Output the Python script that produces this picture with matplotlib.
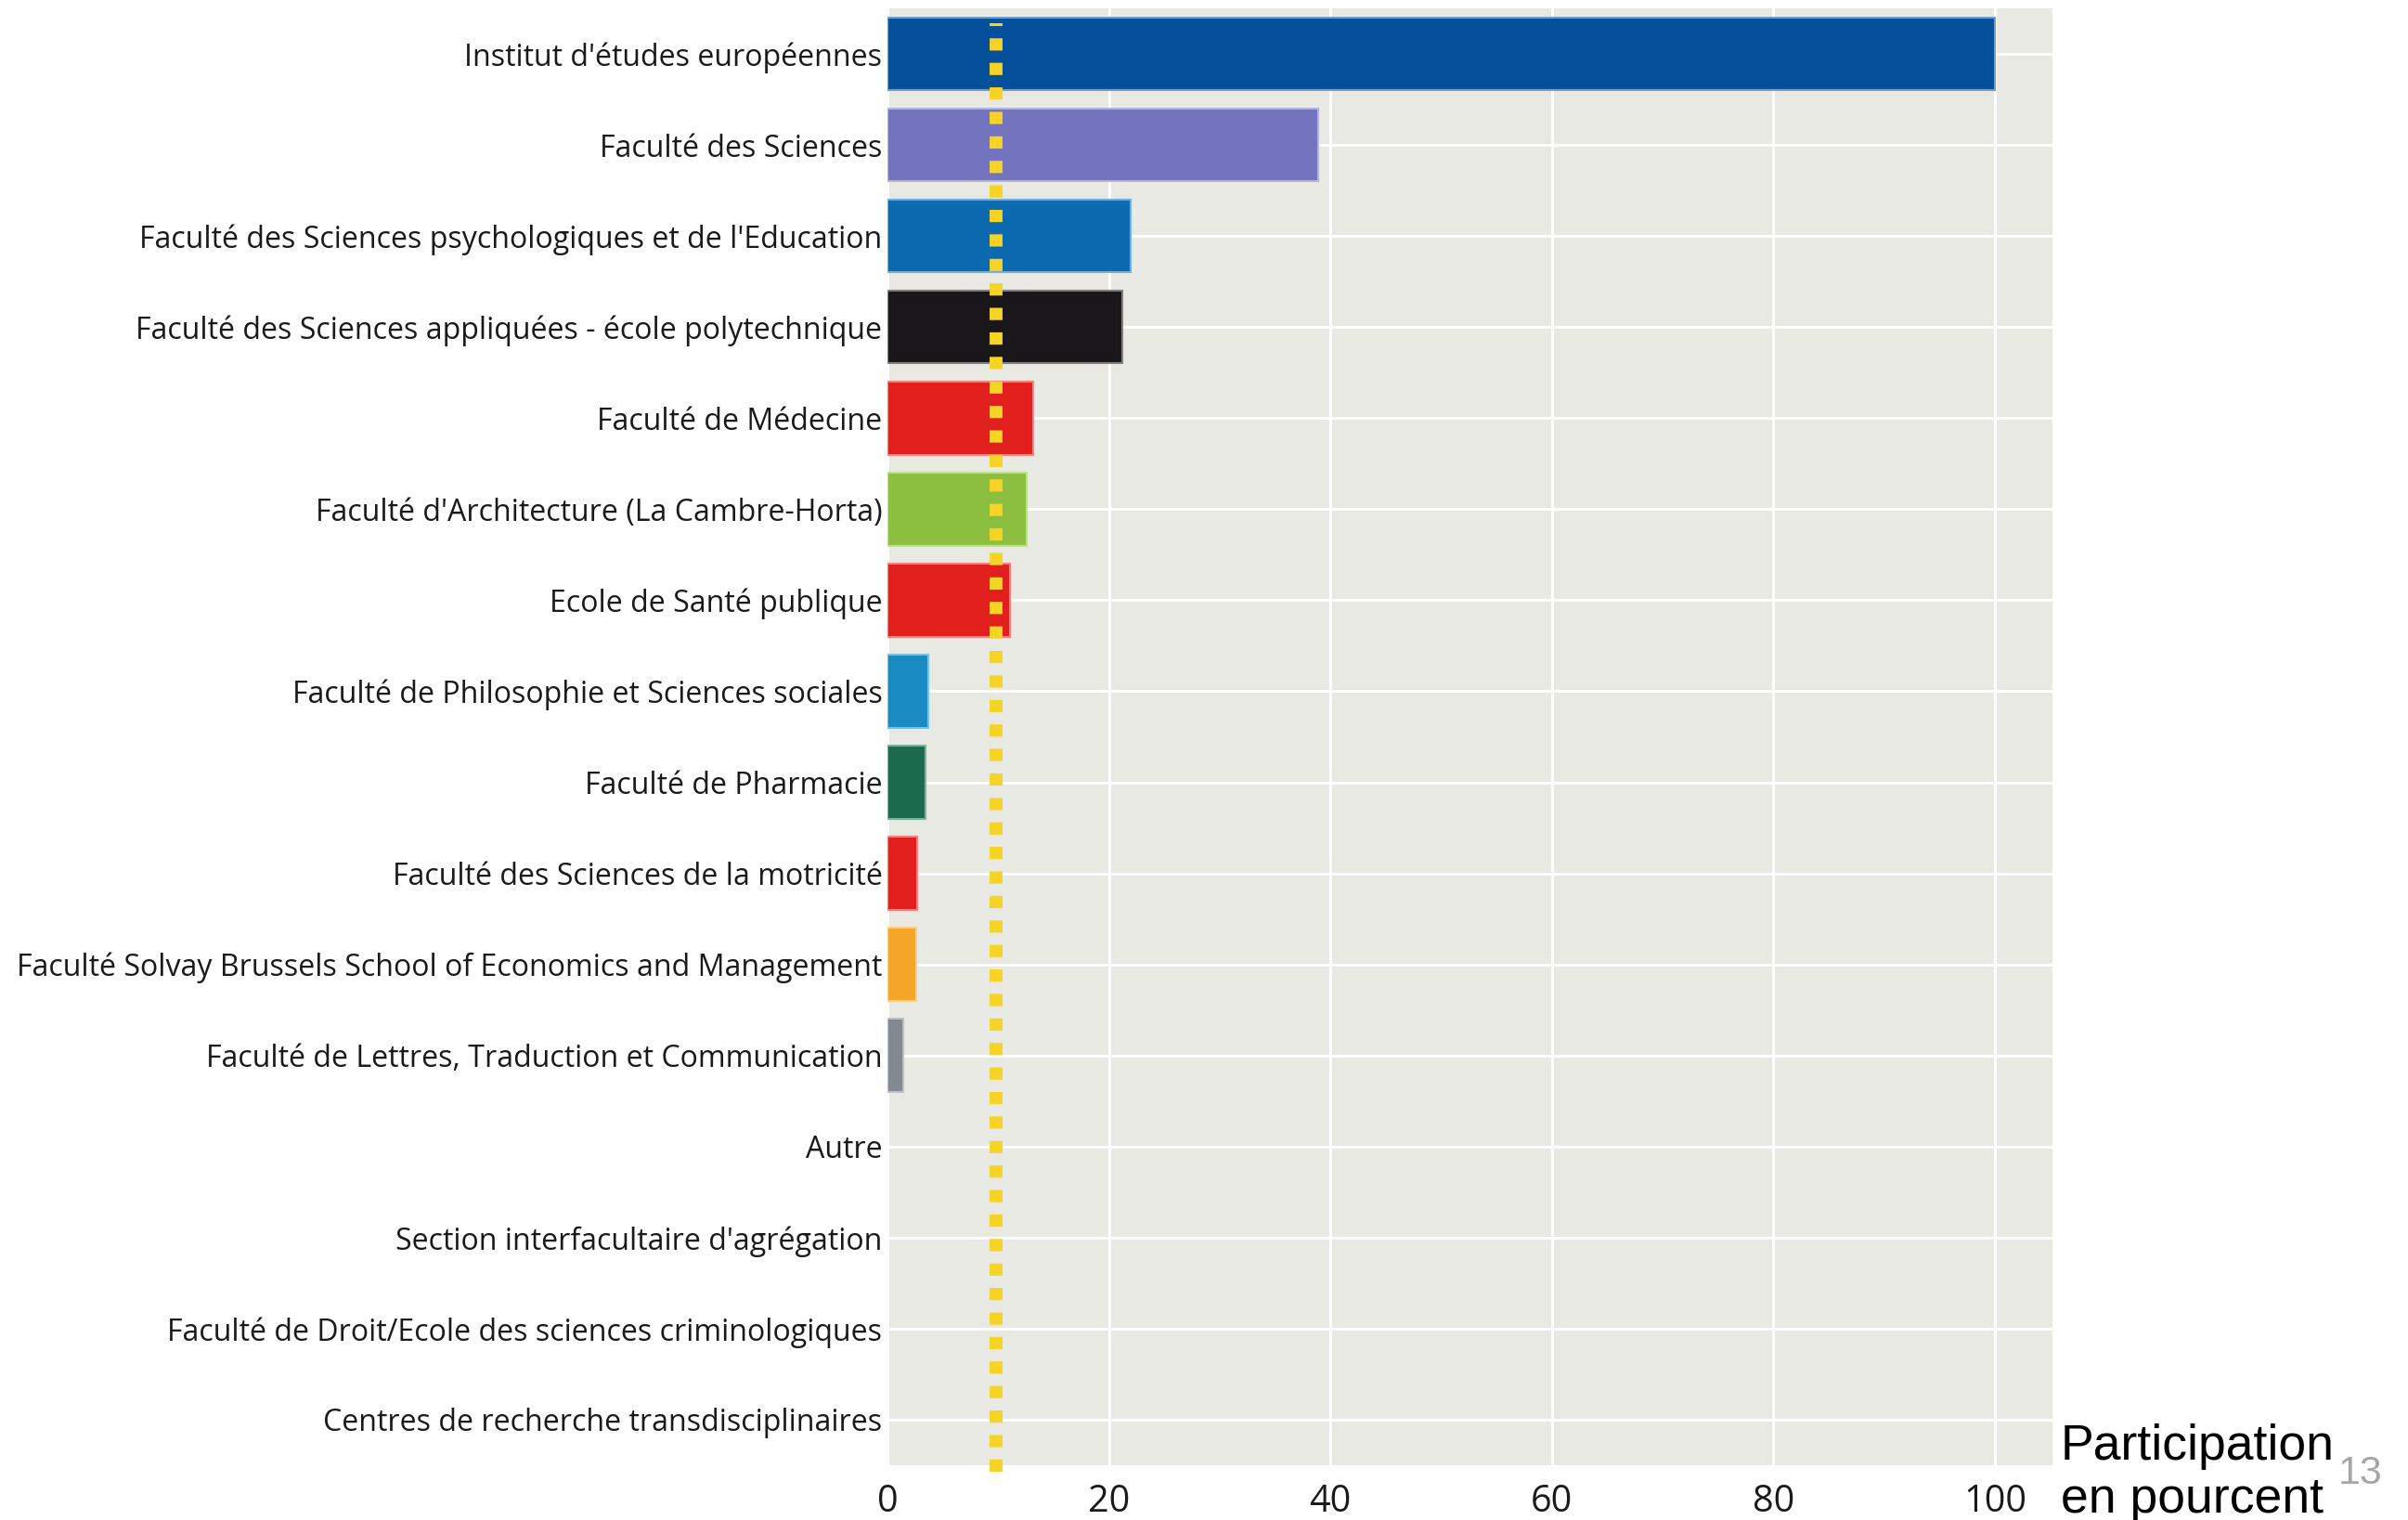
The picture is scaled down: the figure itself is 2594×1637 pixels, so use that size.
import matplotlib
matplotlib.use("Agg")
import matplotlib.pyplot as plt
from matplotlib.colors import to_rgb
import numpy as np

categories = [
    "Institut d'études européennes",
    "Faculté des Sciences",
    "Faculté des Sciences psychologiques et de l'Education",
    "Faculté des Sciences appliquées - école polytechnique",
    "Faculté de Médecine",
    "Faculté d'Architecture (La Cambre-Horta)",
    "Ecole de Santé publique",
    "Faculté de Philosophie et Sciences sociales",
    "Faculté de Pharmacie",
    "Faculté des Sciences de la motricité",
    "Faculté Solvay Brussels School of Economics and Management",
    "Faculté de Lettres, Traduction et Communication",
    "Autre",
    "Section interfacultaire d'agrégation",
    "Faculté de Droit/Ecole des sciences criminologiques",
    "Centres de recherche transdisciplinaires",
]
participation = [100, 38.9, 22.0, 21.2, 13.2, 12.6, 11.1, 3.7, 3.4, 2.7, 2.6, 1.45, 0, 0, 0, 0]
bar_colors = [
    "#04509A", "#7474BE", "#0D69B0", "#1A171B", "#E11F1C", "#8CBF40",
    "#E11F1C", "#1A8AC2", "#1A6B4E", "#E11F1C", "#F4A627", "#848890",
    "#848890", "#848890", "#848890", "#848890",
]
average_participation = 9.8
x_ticks = [0, 20, 40, 60, 80, 100]

W, H = 2594, 1637
fig = plt.figure(figsize=(W / 100, H / 100), dpi=100)
ax = fig.add_axes([956 / W, 1 - 1578 / H, (2211 - 956) / W, (1578 - 9) / H])
ax.set_facecolor("#E9E9E4")

y = np.arange(len(categories))

def lighten(c, f=0.45):
    r, g, b = to_rgb(c)
    return (r + (1 - r) * f, g + (1 - g) * f, b + (1 - b) * f)

ax.barh(y, participation, height=0.8, color=bar_colors,
        edgecolor=[lighten(c) for c in bar_colors],
        linewidth=[1.5 if v > 0 else 0 for v in participation], zorder=2)

ax.set_xlim(0, 105.2)
ax.set_ylim(len(categories) - 0.5, -0.5)

ax.set_xticks(x_ticks)
ax.set_xticklabels([str(t) for t in x_ticks])
ax.set_yticks(y)
ax.set_yticklabels(categories)

ax.grid(True, color="white", linewidth=2.2, zorder=1)
ax.set_axisbelow(True)
for s in ax.spines.values():
    s.set_visible(False)
ax.tick_params(axis="both", length=0, colors="#1A1A1A")
ax.tick_params(axis="y", pad=4, labelsize=23.1)
ax.tick_params(axis="x", pad=14, labelsize=28.5)
for lab in ax.get_yticklabels() + ax.get_xticklabels():
    lab.set_family("Open Sans")

ax.plot([average_participation, average_participation],
        [len(categories) - 0.5 + 0.07, -0.5 + 0.16],
        color="#F5D327", linewidth=10, linestyle=(0, (0.95, 0.95)),
        dash_capstyle="butt", clip_on=False, zorder=3)

fig.text(2220 / W, 1 - 1629 / H, "Participation\nen pourcent", family="Liberation Sans",
         fontsize=38.5, color="black", ha="left", va="baseline", linespacing=1.18)
fig.text(2543 / W, 1 - 1598 / H, "13", family="Liberation Sans",
         fontsize=31, color="#A6A6A6", ha="center", va="baseline")

fig.savefig("out.png", dpi=100)
